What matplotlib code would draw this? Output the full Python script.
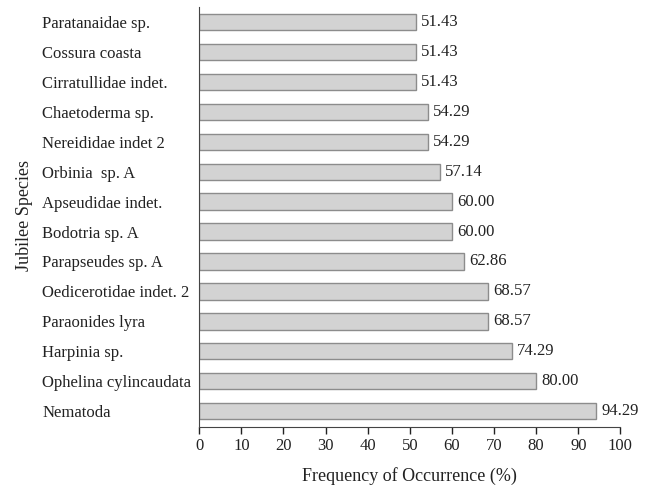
import matplotlib.pyplot as plt

species = ["Paratanaidae sp.", "Cossura coasta", "Cirratullidae indet.", "Chaetoderma sp.",
           "Nereididae indet 2", "Orbinia  sp. A", "Apseudidae indet.", "Bodotria sp. A",
           "Parapseudes sp. A", "Oedicerotidae indet. 2", "Paraonides lyra", "Harpinia sp.",
           "Ophelina cylincaudata", "Nematoda"]
freq = [51.43, 51.43, 51.43, 54.29, 54.29, 57.14, 60.00, 60.00, 62.86, 68.57, 68.57, 74.29,
        80.00, 94.29]

plt.rcParams["font.family"] = ["Liberation Serif", "DejaVu Serif"]

fig = plt.figure(figsize=(6.51, 4.86), dpi=100)
ax = fig.add_axes([0.306, 0.121, 0.647, 0.865])

ypos = list(range(len(species)))
ax.barh(ypos, freq, height=0.54, color="#d3d3d3", edgecolor="#8c8c8c", linewidth=1.0)
for y, v in zip(ypos, freq):
    ax.text(v + 1.2, y, "%.2f" % v, va="center", ha="left", fontsize=12, color="#222222")

ax.set_ylim(len(species) - 0.47, -0.5)
ax.set_xlim(0, 100)
ax.set_xticks(range(0, 101, 10))
ax.set_yticks(ypos)
ax.set_yticklabels(species, ha="left", fontsize=12, color="#222222")
ax.tick_params(axis="y", length=0, pad=113)
ax.tick_params(axis="x", length=5, width=1, labelsize=12, colors="#222222", pad=3)

for s in ["top", "right"]:
    ax.spines[s].set_visible(False)
ax.spines["left"].set_color("#444444")
ax.spines["bottom"].set_color("#444444")

ax.set_xlabel("Frequency of Occurrence (%)", fontsize=13, color="#222222", labelpad=9)
fig.text(0.037, 0.556, "Jubilee Species", rotation=90, va="center", ha="center", fontsize=13,
         color="#222222")

plt.savefig("out.png", dpi=100)
